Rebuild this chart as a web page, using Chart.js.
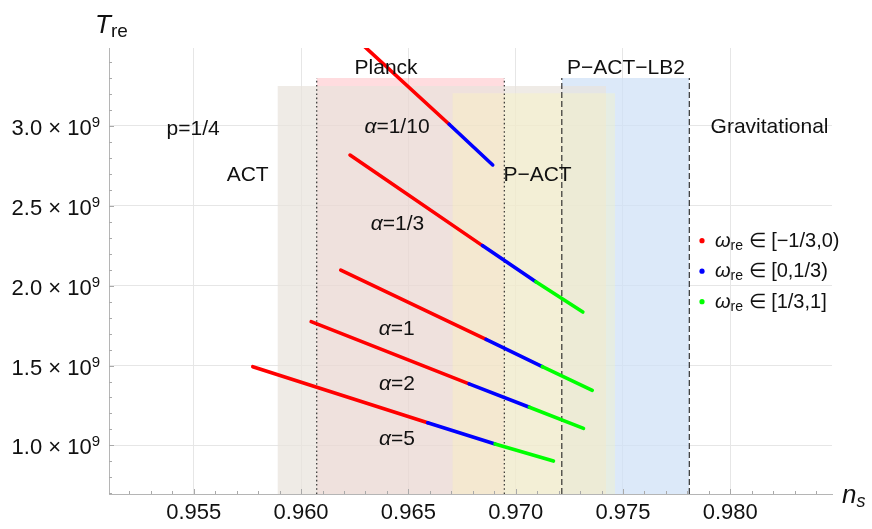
<!DOCTYPE html>
<html>
<head>
<meta charset="utf-8">
<script src="https://cdn.jsdelivr.net/npm/chart.js@4.4.0/dist/chart.umd.min.js"></script>
<style>
  html, body { margin: 0; padding: 0; background: #fff; }
  #wrap { width: 872px; height: 529px; }
</style>
</head>
<body>
<div id="wrap"><canvas id="reheatChart"></canvas></div>
<script>
// axis ticks (T_re in units of 10^9 GeV)
const nsTicks = [0.955, 0.960, 0.965, 0.970, 0.975, 0.980];
const tTicks = [1.0, 1.5, 2.0, 2.5, 3.0];

// observational n_s bands
const bandNames = ['ACT', 'Planck', 'P-ACT', 'P-ACT-LB2'];
const bandLo = [0.95890, 0.96073, 0.96705, 0.97215];
const bandHi = [0.97421, 0.96947, 0.97463, 0.97809];
const bandTop = [3.25, 3.30, 3.205, 3.30];

// reheating curves: points where omega_re changes range (red -> blue -> green)
const alphaNames = ['α=1/10', 'α=1/3', 'α=1', 'α=2', 'α=5'];
const curveNs = [
    [0.96253, 0.96690, 0.96893],
    [0.96228, 0.96845, 0.97094, 0.97313],
    [0.96185, 0.96862, 0.97124, 0.97357],
    [0.96047, 0.96783, 0.97064, 0.97316],
    [0.95775, 0.96590, 0.96904, 0.97176]
];
const curveT = [
    [3.55, 3.011, 2.756],
    [2.818, 2.251, 2.025, 1.835],
    [2.098, 1.664, 1.493, 1.345],
    [1.775, 1.385, 1.239, 1.107],
    [1.493, 1.142, 1.009, 0.902]
];
const omegaRanges = ['[−1/3,0)', '[0,1/3)', '[1/3,1]'];
const omegaColors = ['#ff0000', '#0000ff', '#00ff00'];

const xMin = 0.95105, xMax = 0.98474;
const yMin = 0.6957, yMax = 3.4884;

const bandFill = {
    'ACT': 'rgba(232,226,220,0.7)',
    'Planck': 'rgba(255,120,130,0.26)',
    'P-ACT': 'rgba(255,248,180,0.3)',
    'P-ACT-LB2': 'rgba(205,224,246,0.7)'
};
const bandOrder = { 'ACT': 3, 'Planck': 4, 'P-ACT': 2, 'P-ACT-LB2': 5 };

const datasets = [];

curveNs.forEach((ns, i) => {
    datasets.push({
        label: alphaNames[i],
        data: ns.map((v, j) => ({ x: v, y: curveT[i][j] })),
        borderWidth: 3.6,
        borderColor: omegaColors[0],
        borderCapStyle: 'round',
        segment: { borderColor: c => omegaColors[c.p0DataIndex] },
        pointRadius: 0,
        fill: false,
        order: 0
    });
});

// dotted Planck edges, dashed P-ACT-LB2 edges
[1, 3].forEach(b => {
    [bandLo[b], bandHi[b]].forEach(v => {
        datasets.push({
            label: bandNames[b] + ' edge',
            data: [{ x: v, y: yMin }, { x: v, y: bandTop[b] }],
            borderWidth: 1.1,
            borderColor: '#222',
            borderDash: b === 1 ? [1.6, 2.6] : [6, 3],
            pointRadius: 0,
            fill: false,
            order: 1
        });
    });
});

bandNames.forEach((name, b) => {
    datasets.push({
        label: name,
        data: [{ x: bandLo[b], y: bandTop[b] }, { x: bandHi[b], y: bandTop[b] }],
        borderWidth: 0,
        pointRadius: 0,
        backgroundColor: bandFill[name],
        fill: 'start',
        order: bandOrder[name]
    });
});

// text placed at (n_s, T) centres
const notes = [
    { t: 'p=1/4', x: 0.95497, y: 2.990 },
    { t: 'ACT', x: 0.95751, y: 2.701 },
    { t: 'Planck', x: 0.96396, y: 3.374 },
    { t: 'P−ACT−LB2', x: 0.97514, y: 3.374 },
    { t: 'P−ACT', x: 0.97102, y: 2.704 },
    { t: 'Gravitational', x: 0.98183, y: 3.000 }
];
const alphaPos = [[0.96447, 3.000], [0.96449, 2.393], [0.96446, 1.741], [0.96447, 1.393], [0.96447, 1.050]];

const FONT = '"Liberation Sans", Arial, Helvetica, sans-serif';

function rich(ctx, parts, x, base, align) {
    let w = 0;
    parts.forEach(p => { ctx.font = p.f; p.w = ctx.measureText(p.t).width; w += p.w; });
    let cx = align === 'center' ? x - w / 2 : align === 'right' ? x - w : x;
    parts.forEach(p => {
        ctx.font = p.f;
        ctx.fillText(p.t, cx, base + (p.dy || 0));
        cx += p.w;
    });
}

const overlay = {
    id: 'overlay',
    afterDraw(chart) {
        const { ctx, chartArea: a, scales: { x, y } } = chart;
        ctx.save();
        ctx.textAlign = 'left';
        ctx.textBaseline = 'alphabetic';

        // inward tick marks
        ctx.strokeStyle = '#a9a9a9';
        ctx.lineWidth = 1;
        ctx.beginPath();
        for (let k = 952; k <= 984; k++) {
            const px = Math.round(x.getPixelForValue(k / 1000)) + 0.5;
            const len = k % 5 === 0 ? 5 : 3;
            ctx.moveTo(px, a.bottom);
            ctx.lineTo(px, a.bottom - len);
        }
        for (let k = 7; k <= 34; k++) {
            const py = Math.round(y.getPixelForValue(k / 10)) + 0.5;
            const len = k % 5 === 0 ? 5 : 3;
            ctx.moveTo(a.left, py);
            ctx.lineTo(a.left + len, py);
        }
        ctx.stroke();

        ctx.fillStyle = '#111';
        // x tick labels
        ctx.font = '22px ' + FONT;
        ctx.textAlign = 'center';
        nsTicks.forEach(v => ctx.fillText(v.toFixed(3), x.getPixelForValue(v), 519));
        ctx.textAlign = 'left';

        // y tick labels
        tTicks.forEach(v => {
            const py = y.getPixelForValue(v);
            rich(ctx, [
                { t: v.toFixed(1) + ' × 10', f: '22px ' + FONT },
                { t: '9', f: '15px ' + FONT, dy: -8 }
            ], 100, py + 9, 'right');
        });

        // axis titles
        rich(ctx, [
            { t: 'T', f: 'italic 26px ' + FONT },
            { t: 're', f: '19px ' + FONT, dy: 4 }
        ], 95, 33, 'left');
        rich(ctx, [
            { t: 'n', f: 'italic 26px ' + FONT },
            { t: 's', f: 'italic 18px ' + FONT, dy: 4 }
        ], 842, 503, 'left');

        // annotations
        notes.forEach(n => {
            rich(ctx, [{ t: n.t, f: '21px ' + FONT }],
                x.getPixelForValue(n.x), y.getPixelForValue(n.y) + 7.5, 'center');
        });
        alphaNames.forEach((name, i) => {
            rich(ctx, [
                { t: 'α', f: 'italic 21px ' + FONT },
                { t: name.slice(1), f: '21px ' + FONT }
            ], x.getPixelForValue(alphaPos[i][0]), y.getPixelForValue(alphaPos[i][1]) + 7.5, 'center');
        });

        // legend
        omegaRanges.forEach((r, i) => {
            const dy = 240.7 + i * 30.5;
            ctx.fillStyle = omegaColors[i];
            ctx.beginPath();
            ctx.arc(702, dy, 2.6, 0, Math.PI * 2);
            ctx.fill();
            ctx.fillStyle = '#111';
            rich(ctx, [
                { t: 'ω', f: 'italic 20px ' + FONT },
                { t: 're', f: '14px ' + FONT, dy: 3 },
                { t: ' ∈ ' + r, f: '20px ' + FONT }
            ], 715, dy + 6, 'left');
        });
        ctx.restore();
    }
};

new Chart(document.getElementById('reheatChart'), {
    type: 'line',
    data: { datasets },
    options: {
        responsive: true,
        maintainAspectRatio: false,
        animation: false,
        events: [],
        layout: { padding: { left: 109, right: 40, top: 48, bottom: 35 } },
        plugins: { legend: { display: false }, tooltip: { enabled: false } },
        scales: {
            x: {
                type: 'linear',
                min: xMin,
                max: xMax,
                afterBuildTicks: s => { s.ticks = nsTicks.map(v => ({ value: v })); },
                ticks: { display: false },
                grid: { color: '#e6e6e6', drawTicks: false },
                border: { color: '#b5b5b5', width: 1 }
            },
            y: {
                type: 'linear',
                min: yMin,
                max: yMax,
                afterBuildTicks: s => { s.ticks = tTicks.map(v => ({ value: v })); },
                ticks: { display: false },
                grid: { color: '#e6e6e6', drawTicks: false },
                border: { color: '#b5b5b5', width: 1 }
            }
        }
    },
    plugins: [overlay]
});
</script>
</body>
</html>
